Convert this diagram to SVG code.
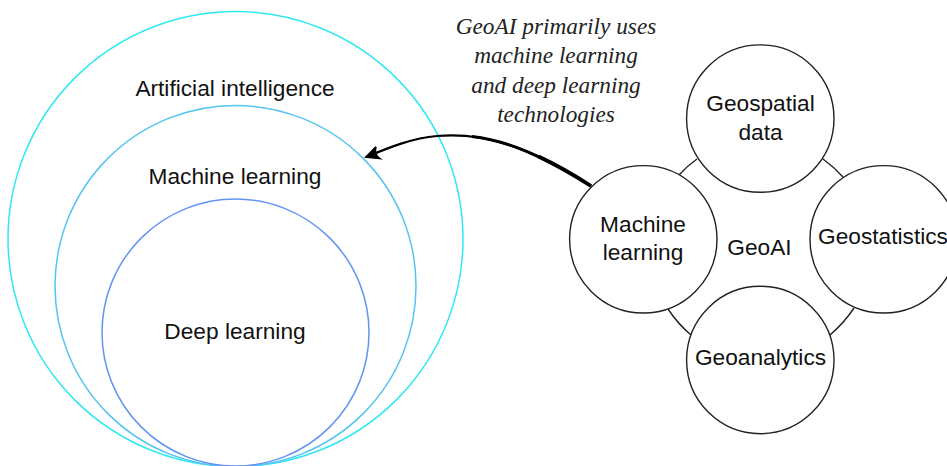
<svg xmlns="http://www.w3.org/2000/svg" width="947" height="466" viewBox="0 0 947 466">
<defs>
<marker id="arrow" markerUnits="userSpaceOnUse" markerWidth="20" markerHeight="20" refX="14" refY="8" orient="auto" overflow="visible">
<path d="M2 1.500 L14 8 L1 13.500 Q6 8 2 1.500Z" fill="#000" stroke="#000" stroke-width="1.800" stroke-linejoin="miter"/>
</marker>
<path id="curve" d="M591 186C530 147 485 132 437 136C412 138 388 148 366 157"/>
</defs>
<style>
text{font-family:"Liberation Sans",Arial,sans-serif;font-size:22.700px;fill:#111;text-anchor:middle}
.hand{font-family:"Liberation Serif","Times New Roman",serif;font-style:italic;font-size:23.300px;fill:#222}
.n{fill:#fff;stroke:#222;stroke-width:1.4}
.s{fill:none;stroke-width:1.5}
.link{fill:none;stroke:#222;stroke-width:1.4}
.wire{fill:none;stroke:#000}
</style>
<rect width="947" height="466" fill="#fff"/>
<g id="ai"><circle class="s" cx="235.500" cy="239" r="227.500" stroke="#30e8f2"/><text x="235" y="96">Artificial intelligence</text></g>
<g id="ml"><circle class="s" cx="235.500" cy="286" r="180.500" stroke="#55c4f0"/><text x="235" y="184">Machine learning</text></g>
<g id="dl"><circle class="s" cx="235.500" cy="332.500" r="133.500" stroke="#6494f2"/><text x="235" y="339">Deep learning</text></g>
<g id="connectors">
<path class="link" d="M679 175Q687 166 697 159"/>
<path class="link" d="M823 159Q834 167 843 177"/>
<path class="link" d="M668 309Q678 324 691 335"/>
<path class="link" d="M854 308Q844 323 830 335"/>
<path d="M591 186C530 147 485 132 437 136C412 138 388 148 366 157" class="wire" stroke-width="2.200" marker-end="url(#arrow)"/>
<use href="#curve" class="wire" stroke-width="3" stroke-dasharray="130 1000"/>
<use href="#curve" class="wire" stroke-width="3.800" stroke-dasharray="60 1000"/>
</g>
<g id="geospatial"><circle class="n" cx="760.300" cy="118.600" r="73.700"/><text x="760.500" y="111">Geospatial</text><text x="760.500" y="140">data</text></g>
<g id="machine"><circle class="n" cx="643.300" cy="239.300" r="73.700"/><text x="643" y="232">Machine</text><text x="643" y="260">learning</text></g>
<g id="geostatistics"><circle class="n" cx="883.700" cy="239.300" r="73.700"/><text x="883" y="244">Geostatistics</text></g>
<g id="geoanalytics"><circle class="n" cx="760.300" cy="360" r="73.700"/><text x="760.500" y="365">Geoanalytics</text></g>
<g id="geoai"><text x="759.500" y="255">GeoAI</text></g>
<g id="note">
<text class="hand" x="556" y="34">GeoAI primarily uses</text>
<text class="hand" x="556" y="63">machine learning</text>
<text class="hand" x="556" y="93">and deep learning</text>
<text class="hand" x="556" y="122">technologies</text>
</g>
</svg>
